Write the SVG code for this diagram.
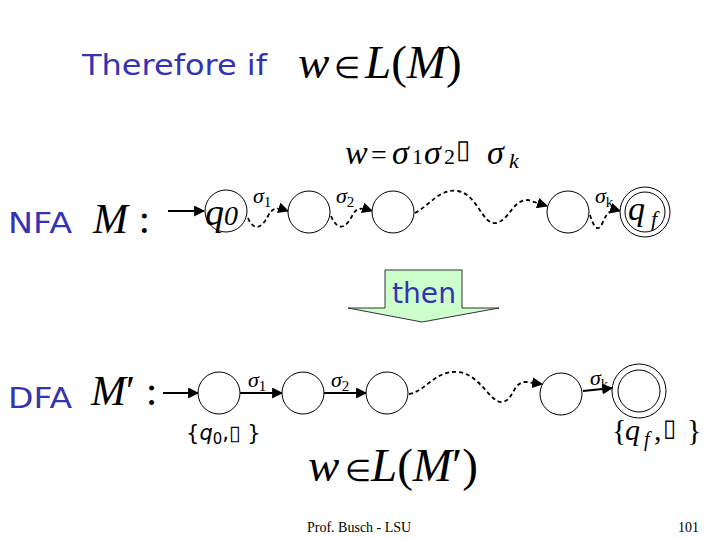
<svg xmlns="http://www.w3.org/2000/svg" width="720" height="540" viewBox="0 0 720 540">
<defs>
<marker id="ah" viewBox="0 0 10 10" refX="9" refY="5" markerWidth="11" markerHeight="11" markerUnits="userSpaceOnUse" orient="auto">
<path d="M0,0 L10,5 L0,10 Z" fill="#000"/>
</marker>
</defs>
<style>
.st{fill:#fff;stroke:#000;stroke-width:1}
.blue{font-family:"Comic Sans MS","DejaVu Sans",sans-serif;fill:#3333B3}
.m{font-family:"Liberation Serif","Times New Roman",serif;fill:#000}
.i{font-style:italic}
.sol{fill:none;stroke:#000;stroke-width:2;marker-end:url(#ah)}
.dash{fill:none;stroke:#000;stroke-width:1.8;stroke-dasharray:4,3;marker-end:url(#ah)}
.lbl{font-family:"Liberation Serif",serif;font-style:italic;font-size:22px;fill:#000}
.sub{font-size:15px;font-style:normal}
</style>
<rect width="720" height="540" fill="#fff"/>

<text class="blue" x="82" y="75" font-size="28" textLength="185" lengthAdjust="spacingAndGlyphs">Therefore if</text>
<text class="m" y="78" font-size="47"><tspan class="i" x="298">w</tspan><tspan x="334" font-size="30">∈</tspan><tspan class="i" x="365">L</tspan>(<tspan class="i">M</tspan>)</text>

<text class="m" y="164" font-size="34"><tspan class="i" x="345">w</tspan><tspan x="371" font-size="28">=</tspan><tspan class="i" x="392">σ</tspan><tspan x="412" font-size="22">1</tspan><tspan class="i" x="424">σ</tspan><tspan x="444" font-size="22">2</tspan><tspan x="456" font-size="26" dy="-6">▯</tspan><tspan class="i" x="487" dy="6">σ</tspan><tspan class="i" x="509" font-size="22" dy="4">k</tspan></text>

<text class="blue" x="8" y="233" font-size="28" textLength="64" lengthAdjust="spacingAndGlyphs">NFA</text>
<text class="m" x="93" y="233" font-size="42"><tspan class="i">M</tspan> :</text>

<text class="blue" x="8" y="408" font-size="28" textLength="64" lengthAdjust="spacingAndGlyphs">DFA</text>
<text class="m" x="91" y="405" font-size="42"><tspan class="i">M</tspan>′ :</text>

<g id="connectors">
<path class="sol" d="M168,211 L204,211"/>
<path class="dash" d="M248,218 C254,232 262,228 268,216 C272,208 276,207 288,211"/>
<path class="dash" d="M331,216 C338,232 346,228 352,216 C356,208 360,207 372,211"/>
<path class="dash" d="M415,213 C430,205 440,188 458,191 C478,195 482,225 496,223 C510,220 512,200 528,200 L547,206"/>
<path class="dash" d="M590,215 C594,228 598,232 602,224 C606,214 610,208 620,211"/>

<path class="sol" d="M163,393 L198,393"/>
<path class="sol" d="M240,393 L282,393"/>
<path class="sol" d="M324,393 L366,393"/>
<path class="dash" d="M409,394 C425,392 435,370 458,372 C480,374 490,403 502,402 C514,401 512,382 526,382 L542,384"/>
<path class="sol" d="M583,391 L612,388"/>
</g>

<g id="nfa-q0"><circle class="st" cx="226" cy="211" r="21"/><text class="m i" x="205" y="225" font-size="38">q<tspan font-size="28">0</tspan></text></g>
<g id="nfa-s1"><circle class="st" cx="309" cy="212" r="21"/></g>
<g id="nfa-s2"><circle class="st" cx="393" cy="212" r="21"/></g>
<g id="nfa-s3"><circle class="st" cx="568" cy="212" r="21"/></g>
<g id="nfa-qf"><circle class="st" cx="645" cy="212" r="25"/><circle class="st" cx="645" cy="212" r="20"/><text class="m i" x="628" y="220" font-size="34">q<tspan font-size="22" dy="6" x="651">f</tspan></text></g>

<text class="lbl" x="253" y="203">σ<tspan class="sub" dy="4">1</tspan></text>
<text class="lbl" x="336" y="203">σ<tspan class="sub" dy="4">2</tspan></text>
<text class="lbl" x="595" y="203">σ<tspan class="sub" dy="4" font-style="italic">k</tspan></text>

<g id="dfa-s0"><circle class="st" cx="219" cy="393" r="21"/><text x="186" y="440" font-family="'DejaVu Sans',sans-serif" font-size="21" fill="#000">{<tspan font-style="italic">q</tspan><tspan font-size="15" dy="4">0</tspan><tspan dy="-4">,▯  }</tspan></text></g>
<g id="dfa-s1"><circle class="st" cx="303" cy="393" r="21"/></g>
<g id="dfa-s2"><circle class="st" cx="387" cy="393" r="21"/></g>
<g id="dfa-s3"><circle class="st" cx="561" cy="394" r="21"/></g>
<g id="dfa-sf"><circle class="st" cx="639" cy="391" r="27"/><circle class="st" cx="639" cy="391" r="21"/><text class="m" y="440" font-size="30"><tspan x="612">{</tspan><tspan class="i" x="625">q</tspan><tspan class="i" x="644" font-size="20" dy="6">f</tspan><tspan x="654" dy="-6">,</tspan><tspan x="663" font-size="24" dy="-4">▯</tspan><tspan x="687" dy="4">}</tspan></text></g>

<text class="lbl" x="248" y="387">σ<tspan class="sub" dy="4">1</tspan></text>
<text class="lbl" x="331" y="387">σ<tspan class="sub" dy="4">2</tspan></text>
<text class="lbl" x="590" y="385">σ<tspan class="sub" dy="4" font-style="italic">k</tspan></text>

<g id="then-arrow">
<path d="M385,270 L462,270 L462,308 L499,308 L422,322 L348,308 L385,308 Z" fill="#CCFFCC" stroke="#333" stroke-width="1"/>
<text class="blue" x="424" y="303" font-size="28" text-anchor="middle" textLength="64" lengthAdjust="spacingAndGlyphs">then</text>
</g>

<text class="m" y="481" font-size="47"><tspan class="i" x="308">w</tspan><tspan x="345" font-size="30">∈</tspan><tspan class="i" x="371">L</tspan>(<tspan class="i">M</tspan>′)</text>

<text class="m" x="307" y="532" font-size="14">Prof. Busch - LSU</text>
<text class="m" x="678" y="532" font-size="14">101</text>
</svg>
